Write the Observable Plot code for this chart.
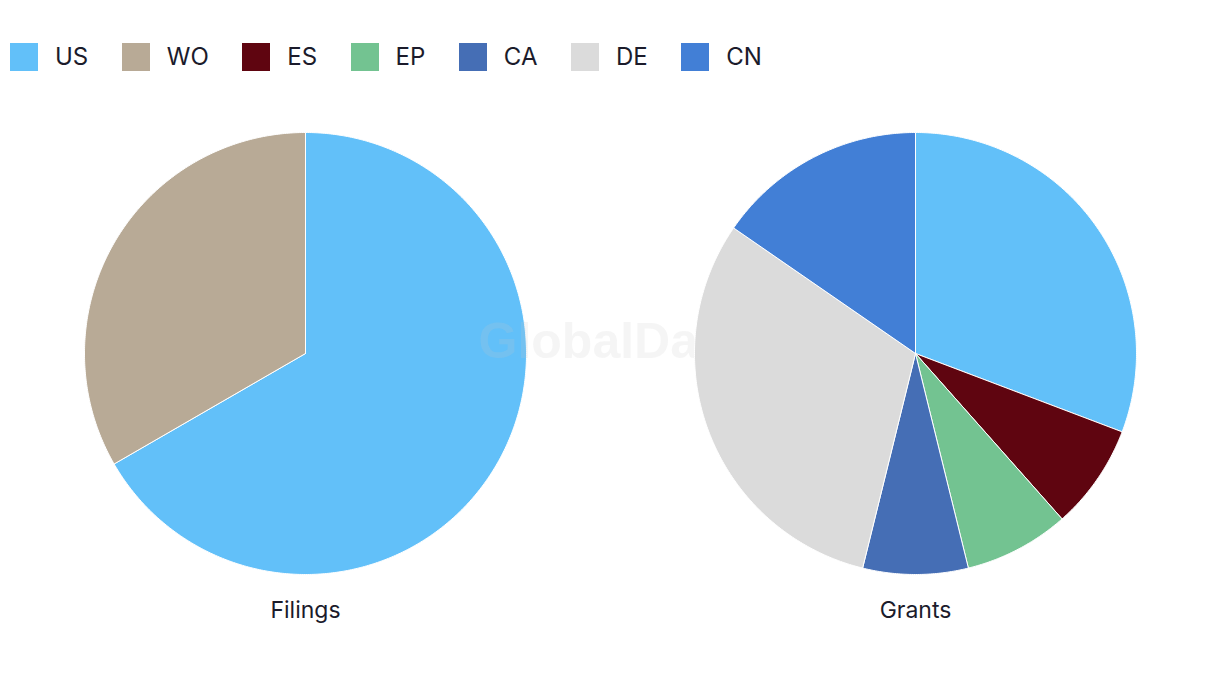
<!DOCTYPE html>
<html>
<head>
<meta charset="utf-8">
<script src="https://cdn.jsdelivr.net/npm/d3@7"></script>
<script src="https://cdn.jsdelivr.net/npm/@observablehq/plot@0.6"></script>
<style>
  html, body { margin: 0; padding: 0; background: #fff; }
  body { width: 1220px; height: 686px; overflow: hidden; font-family: Inter, "Noto Sans", sans-serif; color: #1b1b2b; }
  #legend { height: 100px; box-sizing: border-box; padding: 43px 0 0 10px; display: flex; align-items: flex-start; }
  #legend .item { display: flex; align-items: center; margin-right: 33.5px; height: 28px; }
  #legend .sw { width: 28px; height: 28px; margin-right: 17px; }
  #legend .lab { font-size: 24px; line-height: 28px; }
  #chart svg { display: block; }
</style>
</head>
<body>
<div id="legend"></div>
<div id="chart"></div>
<script>
// ---- data ----
const countries = ["US", "WO", "ES", "EP", "CA", "DE", "CN"];
const colors = ["#62c0f9", "#b8aa96", "#5f0510", "#73c391", "#456eb5", "#dbdbdb", "#427fd6"];
const charts = ["Filings", "Grants"];
const filingsKeys = ["US", "WO"];
const filingsValues = [2, 1];
const grantsKeys = ["US", "ES", "EP", "CA", "DE", "CN"];
const grantsValues = [4, 1, 1, 1, 4, 2];
const watermark = "GlobalData";

// ---- build slice polygons (unit circle, clockwise from top) ----
function slices(chart, keys, values) {
  const pie = d3.pie().sort(null).value(d => d.v)(keys.map((k, i) => ({k, v: values[i]})));
  const pts = [];
  for (const s of pie) {
    const key = s.data.k;
    pts.push({chart, key, x: 0, y: 0});
    const n = Math.max(2, Math.ceil((s.endAngle - s.startAngle) / (Math.PI / 360)));
    for (let i = 0; i <= n; i++) {
      const a = s.startAngle + (s.endAngle - s.startAngle) * i / n;
      pts.push({chart, key, x: Math.sin(a), y: Math.cos(a)});
    }
    pts.push({chart, key, x: 0, y: 0});
  }
  return pts;
}
const filingsPoints = slices(charts[0], filingsKeys, filingsValues);
const grantsPoints = slices(charts[1], grantsKeys, grantsValues);

// ---- legend ----
const legend = document.getElementById("legend");
countries.forEach((c, i) => {
  const it = document.createElement("div");
  it.className = "item";
  it.innerHTML = `<div class="sw" style="background:${colors[i]}"></div><span class="lab">${c}</span>`;
  legend.appendChild(it);
});

// ---- plot ----
const W = 1220, H = 586, R = 221;
const mTop = 8, mBottom = 88;
const halfX = (W / 2) / (2 * R);
const halfY = ((H - mTop - mBottom) / 2) / R;

const sliceOpts = {fx: "chart", x: "x", y: "y", z: "key", fill: "key", stroke: "white", strokeWidth: 1, strokeLinejoin: "round"};

const plot = Plot.plot({
  width: W,
  height: H,
  marginLeft: 0, marginRight: 0, marginTop: mTop, marginBottom: mBottom,
  style: {fontFamily: "Inter, 'Noto Sans', sans-serif", fontSize: "23px", color: "#1b1b2b", background: "transparent"},
  fx: {domain: charts, padding: 0, axis: "bottom", label: null, tickSize: 0, tickPadding: 3},
  x: {domain: [-halfX, halfX], axis: null},
  y: {domain: [-halfY, halfY], axis: null},
  color: {domain: countries, range: colors},
  marks: [
    Plot.line(filingsPoints, sliceOpts),
    Plot.text([{chart: charts[0], label: watermark}], {
      fx: "chart", x: () => halfX, y: () => 0, text: "label", dy: -12,
      fontSize: 50, fontWeight: "bold", fontFamily: "Arial, 'Liberation Sans', sans-serif",
      fill: "#c8c8c8", fillOpacity: 0.18, textAnchor: "middle"
    }),
    Plot.line(grantsPoints, sliceOpts)
  ]
});
document.getElementById("chart").appendChild(plot);
</script>
</body>
</html>
